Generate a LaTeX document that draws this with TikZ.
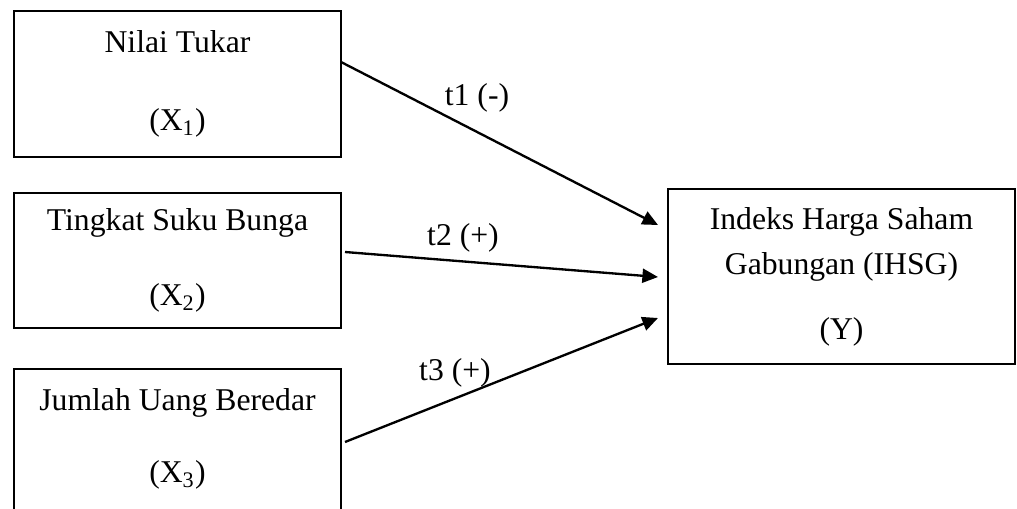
\documentclass[tikz,border=0pt]{standalone}
\usepackage{fontspec}
\setmainfont{Liberation Serif}
\usepackage{tikz}
\usetikzlibrary{arrows.meta,positioning,calc}

\begin{document}
\begin{tikzpicture}[x=0.385pt,y=-0.385pt,
    every node/.style={font=\fontsize{12.2}{14}\selectfont},
    varbox/.style={draw,line width=0.7pt,align=center,inner sep=0pt,outer sep=0pt,minimum width=125.9pt},
    pengaruh/.style={line width=0.9pt,arrows={-Triangle[length=6pt,width=5.4pt]}}]
\useasboundingbox (0,0) rectangle (1017,509);
\node[varbox,minimum height=56.2pt] (x1) at (177.5,84) {Nilai Tukar\\[16pt](X\textsubscript{1})};
\node[varbox,minimum height=52pt] (x2) at (177.5,260.5) {Tingkat Suku Bunga\\[15pt](X\textsubscript{2})};
\node[varbox,minimum height=56.2pt] (x3) at (177.5,442) {Jumlah Uang Beredar\\[13.7pt](X\textsubscript{3})\\[-9pt]\mbox{}};
\node[varbox,minimum width=133.6pt,minimum height=67.4pt] (y) at (841.5,276.5) {Indeks Harga Saham\\[3.3pt]Gabungan (IHSG)\\[11pt](Y)};
\draw[pengaruh] ($(x1.east)+(0,-22)$) -- ($(y.west)+(-10,-51.5)$);
\draw[pengaruh] ($(x2.east)+(4,-8.5)$) -- ($(y.west)+(-10,0.5)$);
\draw[pengaruh] ($(x3.east)+(4,0)$) -- ($(y.west)+(-10,41.5)$);
\node (t1) at (477,98) {t1 (-)};
\node (t2) at (463,238) {t2 (+)};
\node (t3) at (455,373) {t3 (+)};
\end{tikzpicture}
\end{document}
